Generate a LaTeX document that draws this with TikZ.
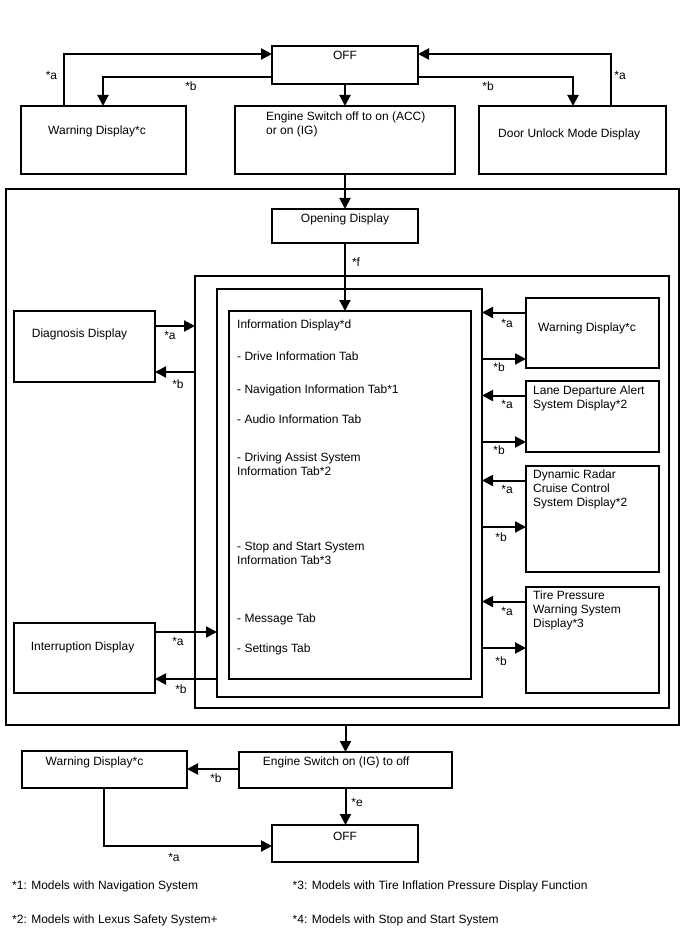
\documentclass[tikz,border=0pt]{standalone}
\usepackage{fontspec}
\setmainfont{Liberation Sans}
\usetikzlibrary{arrows.meta,calc,fit}
\begin{document}
\begin{tikzpicture}[x=1pt,y=-1pt,
  box/.style={draw, line width=1.4pt, inner sep=0pt, outer sep=0pt},
  txt/.style={inner sep=0pt, anchor=north west, align=left, font=\fontsize{12}{14}\selectfont},
  lbl/.style={inner sep=0pt, font=\fontsize{12}{14}\selectfont},
  conn/.style={line width=2pt, -{Triangle[length=11pt,width=11pt]}}]
\useasboundingbox (0,0) rectangle (688,949);

% boxes
\node[box, fit={(272,46)(418,84)}] (off1) {};
\node[box, fit={(21,106)(186,174)}] (warn1) {};
\node[box, fit={(235,106)(455,174)}] (eng1) {};
\node[box, fit={(479,106)(666,174)}] (door) {};
\node[box, fit={(6,189)(679,725)}] (outer) {};
\node[box, fit={(272,209)(418,243)}] (open) {};
\node[box, fit={(195,276)(669,708)}] (mid) {};
\node[box, fit={(217,289)(482,697)}] (inner) {};
\node[box, fit={(229,311)(471,679)}] (info) {};
\node[box, fit={(14,311)(155,382)}] (diag) {};
\node[box, fit={(14,623)(155,693)}] (intr) {};
\node[box, fit={(526,298)(659,368)}] (rwarn) {};
\node[box, fit={(526,381)(659,452)}] (lane) {};
\node[box, fit={(526,466)(659,572)}] (dyn) {};
\node[box, fit={(526,587)(659,693)}] (tire) {};
\node[box, fit={(239,752)(452,788)}] (eng2) {};
\node[box, fit={(22,751)(187,788)}] (warn2) {};
\node[box, fit={(272,825)(418,862)}] (off2) {};

% texts
\node[txt, anchor=north] (off1t) at (345,51.4) {OFF};
\node[txt] (warn1t) at (48,125.7) {Warning Display*c};
\node[txt] (eng1t) at (266,111.7) {Engine Switch off to on (ACC)\\or on (IG)};
\node[txt] (doort) at (498,128.4) {Door Unlock Mode Display};
\node[txt, anchor=north] (opent) at (345,214) {Opening Display};
\node[txt] (info1) at (237,319.7) {Information Display*d};
\node[txt] (info2) at (237,351.4) {- Drive Information Tab};
\node[txt] (info3) at (237,384.7) {- Navigation Information Tab*1};
\node[txt] (info4) at (237,414.7) {- Audio Information Tab};
\node[txt] (info5) at (237,452.7) {- Driving Assist System\\Information Tab*2};
\node[txt] (info6) at (237,541.7) {- Stop and Start System\\Information Tab*3};
\node[txt] (info7) at (237,613.7) {- Message Tab};
\node[txt] (info8) at (237,643.7) {- Settings Tab};
\node[txt] (diagt) at (31.7,328.7) {Diagnosis Display};
\node[txt] (intrt) at (30.7,641.7) {Interruption Display};
\node[txt] (rwarnt) at (538,322.7) {Warning Display*c};
\node[txt] (lanet) at (533,385.7) {Lane Departure Alert\\System Display*2};
\node[txt] (dynt) at (533,469.7) {Dynamic Radar\\Cruise Control\\System Display*2};
\node[txt] (tiret) at (533,590.4) {Tire Pressure\\Warning System\\Display*3};
\node[txt] (eng2t) at (262.7,756.7) {Engine Switch on (IG) to off};
\node[txt] (warn2t) at (45.5,756.7) {Warning Display*c};
\node[txt, anchor=north] (off2t) at (345,831.7) {OFF};
\node[txt] (fn1) at (12,880.7) {*1: Models with Navigation System};
\node[txt] (fn3) at (292.5,880.7) {*3: Models with Tire Inflation Pressure Display Function};
\node[txt] (fn2) at (12,914.7) {*2: Models with Lexus Safety System+};
\node[txt] (fn4) at (292.5,914.7) {*4: Models with Stop and Start System};

% top connectors
\coordinate (c1) at ($(warn1.north west)+(43,0)$);
\draw[conn] (c1) |- ($(off1.north west)+(0,8)$);
\coordinate (c2) at ($(warn1.north west)+(82,0)$);
\draw[conn] ($(off1.north west)+(0,31)$) -| (c2);
\draw[conn] (off1.south) -- (eng1.north);
\coordinate (c3) at ($(door.north west)+(132,0)$);
\draw[conn] (c3) |- ($(off1.north east)+(0,8)$);
\coordinate (c4) at ($(door.north west)+(94,0)$);
\draw[conn] ($(off1.north east)+(0,31)$) -| (c4);
\draw[conn] (eng1.south) -- (open.north);
\draw[conn] (open.south) -- (open.south |- info.north);
\node[lbl] (la1) at (51.5,75) {*a};
\node[lbl] (lb1) at (191,86) {*b};
\node[lbl] (lb2) at (488,86) {*b};
\node[lbl] (la2) at (620,75) {*a};
\node[lbl] (lf) at (356,262) {*f};

% left connectors
\coordinate (d1) at ($(diag.north east)+(0,15)$);
\draw[conn] (d1) -- (d1 -| mid.west);
\coordinate (d2) at ($(diag.north east)+(0,61)$);
\draw[conn] (d2 -| mid.west) -- (d2);
\coordinate (i1) at ($(intr.north east)+(0,9)$);
\draw[conn] (i1) -- (i1 -| inner.west);
\coordinate (i2) at ($(intr.north east)+(0,56)$);
\draw[conn] (i2 -| inner.west) -- (i2);
\node[lbl] (la3) at (170,335) {*a};
\node[lbl] (lb3) at (178,384) {*b};
\node[lbl] (la4) at (178,641) {*a};
\node[lbl] (lb4) at (181,689) {*b};

% right connectors
\foreach \b in {rwarn,lane,dyn,tire}{
  \coordinate (\b-a) at ($(\b.north west)+(0,14.5)$);
  \draw[conn] (\b-a) -- (\b-a -| inner.east);
  \coordinate (\b-b) at ($(\b.north west)+(0,61)$);
  \draw[conn] (\b-b -| inner.east) -- (\b-b);
}
\node[lbl] (la5) at (507,323) {*a};
\node[lbl] (lb5) at (499,367) {*b};
\node[lbl] (la6) at (507,404) {*a};
\node[lbl] (lb6) at (499,450) {*b};
\node[lbl] (la7) at (507,489) {*a};
\node[lbl] (lb7) at (501,537) {*b};
\node[lbl] (la8) at (507,611) {*a};
\node[lbl] (lb8) at (501,661) {*b};

% bottom connectors
\draw[conn] (eng2.north |- outer.south) -- (eng2.north);
\coordinate (e1) at ($(eng2.north west)+(0,17)$);
\draw[conn] (e1) -- (e1 -| warn2.east);
\draw[conn] (eng2.south) -- (eng2.south |- off2.north);
\coordinate (w3) at ($(warn2.south west)+(82,0)$);
\draw[conn] (w3) |- ($(off2.north west)+(0,21)$);
\node[lbl] (lb9) at (216,778) {*b};
\node[lbl] (le) at (357,802) {*e};
\node[lbl] (la9) at (174,857) {*a};
\end{tikzpicture}
\end{document}
